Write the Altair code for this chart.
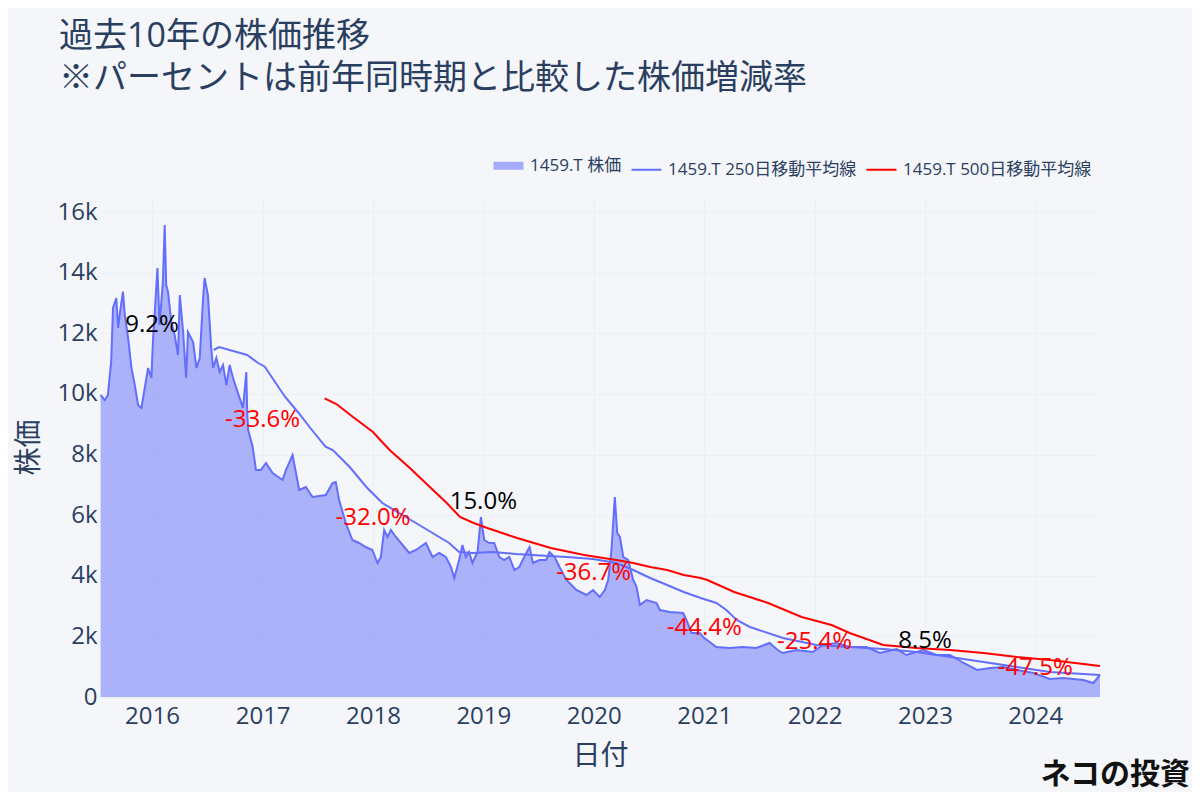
import altair as alt
import pandas as pd

TITLE_LINE1 = "過去10年の株価推移"
TITLE_LINE2 = "※パーセントは前年同時期と比較した株価増減率"
SERIES = ["1459.T 株価", "1459.T 250日移動平均線", "1459.T 500日移動平均線"]
SERIES_COLORS = ["#636efa", "#636efa", "#ff0000"]

price_dates = [
    "2015-07-15", "2015-07-29", "2015-08-08", "2015-08-19", "2015-08-25", "2015-09-05",
    "2015-09-11", "2015-09-16", "2015-09-27", "2015-10-03", "2015-10-14", "2015-10-25",
    "2015-11-05", "2015-11-16", "2015-11-27", "2015-12-08", "2015-12-19", "2015-12-30",
    "2016-01-04", "2016-01-19", "2016-01-26", "2016-02-06", "2016-02-12", "2016-02-17",
    "2016-02-23", "2016-03-05", "2016-03-16", "2016-03-27", "2016-04-02", "2016-04-13",
    "2016-04-23", "2016-04-29", "2016-05-16", "2016-05-27", "2016-06-07", "2016-06-18",
    "2016-06-23", "2016-07-04", "2016-07-15", "2016-07-21", "2016-08-01", "2016-08-12",
    "2016-08-23", "2016-09-03", "2016-09-14", "2016-09-25", "2016-10-06", "2016-10-17",
    "2016-10-28", "2016-11-08", "2016-11-11", "2016-11-14", "2016-11-29", "2016-12-10",
    "2016-12-26", "2017-01-12", "2017-02-03", "2017-03-08", "2017-03-19", "2017-04-10",
    "2017-05-02", "2017-05-24", "2017-06-15", "2017-07-29", "2017-08-20", "2017-08-31",
    "2017-09-11", "2017-10-03", "2017-10-25", "2017-11-16", "2017-12-08", "2017-12-30",
    "2018-01-16", "2018-01-27", "2018-02-07", "2018-02-18", "2018-03-01", "2018-03-18",
    "2018-04-09", "2018-05-01", "2018-05-23", "2018-06-25", "2018-07-17", "2018-08-08",
    "2018-08-30", "2018-09-16", "2018-09-27", "2018-10-13", "2018-10-24", "2018-11-04",
    "2018-11-15", "2018-11-26", "2018-12-13", "2018-12-24", "2019-01-04", "2019-01-21",
    "2019-02-06", "2019-02-23", "2019-03-11", "2019-03-28", "2019-04-14", "2019-04-30",
    "2019-05-23", "2019-06-03", "2019-06-14", "2019-07-06", "2019-07-28", "2019-08-08",
    "2019-08-25", "2019-09-10", "2019-10-03", "2019-11-05", "2019-12-08", "2019-12-30",
    "2020-01-21", "2020-02-07", "2020-02-18", "2020-02-29", "2020-03-11", "2020-03-19",
    "2020-03-28", "2020-04-08", "2020-04-24", "2020-05-11", "2020-05-22", "2020-06-02",
    "2020-06-24", "2020-07-27", "2020-08-07", "2020-09-09", "2020-10-23", "2020-11-03",
    "2020-11-20", "2020-12-17", "2020-12-28", "2021-01-19", "2021-02-10", "2021-03-26",
    "2021-05-09", "2021-06-22", "2021-08-05", "2021-09-01", "2021-09-18", "2021-11-01",
    "2021-12-26", "2022-01-28", "2022-03-14", "2022-04-27", "2022-06-21", "2022-08-05",
    "2022-09-29", "2022-11-01", "2022-12-26", "2023-02-09", "2023-03-25", "2023-05-09",
    "2023-06-22", "2023-08-05", "2023-09-18", "2023-11-01", "2023-12-26", "2024-02-18",
    "2024-04-03", "2024-06-08", "2024-07-11", "2024-08-02",
]
price_values = [
    9966, 9800, 9966, 11065, 12837, 13167,
    12177, 12606, 13375, 12606, 11847, 10857,
    10296, 9636, 9537, 10197, 10857, 10527,
    11715, 14157, 12276, 13695, 15576, 13596,
    13365, 12375, 11946, 11286, 13266, 12045,
    10527, 12045, 11715, 10857, 11187, 13167,
    13827, 13266, 11517, 10857, 11187, 10725,
    10956, 10296, 10956, 10527, 10197, 9867,
    9537, 10725, 9405, 8811, 8260, 7491,
    7491, 7722, 7392, 7161, 7491, 7986,
    6831, 6930, 6600, 6666, 7062, 7095,
    6501, 5742, 5181, 5082, 4950, 4851,
    4422, 4620, 5511, 5280, 5511, 5280,
    5016, 4752, 4851, 5082, 4620, 4752,
    4620, 4290, 3927, 4521, 5016, 4620,
    4785, 4422, 4785, 5940, 5181, 5082,
    5082, 4620, 4521, 4620, 4191, 4290,
    4752, 4950, 4422, 4521, 4521, 4785,
    4620, 4290, 3861, 3531, 3366, 3531,
    3300, 3531, 3861, 4851, 6600, 5412,
    5280, 4620, 4521, 3861, 3630, 3036,
    3201, 3102, 2871, 2805, 2772, 2541,
    2112, 2112, 1980, 1815, 1650, 1617,
    1650, 1617, 1782, 1551, 1452, 1551,
    1485, 1716, 1782, 1650, 1650, 1452,
    1584, 1386, 1551, 1386, 1386, 1122,
    891, 957, 990, 891, 792, 594,
    627, 561, 462, 726,
]

ma250_dates = [
    "2016-07-23", "2016-08-10", "2016-11-11", "2016-12-17", "2017-01-08", "2017-03-16",
    "2017-04-30", "2017-06-13", "2017-07-28", "2017-08-21", "2017-10-16", "2017-12-10",
    "2018-02-01", "2018-03-28", "2018-05-23", "2018-07-17", "2018-09-10", "2018-10-13",
    "2018-11-26", "2019-02-01", "2019-04-19", "2019-06-13", "2019-10-03", "2019-12-30",
    "2020-03-16", "2020-05-11", "2020-07-06", "2020-08-31", "2020-10-25", "2020-12-20",
    "2021-02-10", "2021-03-15", "2021-04-18", "2021-06-01", "2021-09-18", "2022-01-07",
    "2022-04-27", "2022-08-16", "2022-12-04", "2023-03-25", "2023-07-14", "2023-11-01",
    "2024-02-18", "2024-06-08", "2024-08-02",
]
ma250_values = [
    11451, 11550, 11286, 11022, 10900, 9910,
    9372, 8811, 8260, 8151, 7590, 6930,
    6402, 6072, 5742, 5412, 5082, 4785,
    4752, 4785, 4719, 4686, 4620, 4554,
    4422, 4191, 3927, 3696, 3465, 3267,
    3102, 2871, 2541, 2310, 1947, 1716,
    1650, 1584, 1485, 1320, 1155, 990,
    825, 759, 726,
]

ma500_dates = [
    "2017-07-25", "2017-09-02", "2017-10-27", "2017-12-31", "2018-02-25", "2018-05-03",
    "2018-07-08", "2018-09-02", "2018-10-16", "2018-11-30", "2019-01-14", "2019-04-23",
    "2019-08-12", "2019-12-01", "2020-03-16", "2020-05-11", "2020-07-06", "2020-08-31",
    "2020-10-25", "2020-12-20", "2021-01-11", "2021-04-10", "2021-07-31", "2021-11-19",
    "2022-02-26", "2022-04-27", "2022-08-16", "2022-12-04", "2023-03-25", "2023-07-14",
    "2023-11-01", "2024-02-18", "2024-06-08", "2024-08-02",
]
ma500_values = [
    9853, 9669, 9240, 8755, 8151, 7557,
    6930, 6402, 5940, 5742, 5577, 5247,
    4917, 4686, 4521, 4422, 4290, 4191,
    4026, 3927, 3861, 3465, 3102, 2640,
    2376, 2112, 1716, 1617, 1551, 1452,
    1320, 1221, 1089, 1023,
]

ann_dates = ["2016-01-01", "2017-01-01", "2018-01-01", "2019-01-01", "2020-01-01",
             "2021-01-01", "2022-01-01", "2023-01-01", "2024-01-01"]
ann_values = [12280, 9140, 5910, 6445, 4100, 2270, 1825, 1848, 950]
ann_labels = ["9.2%", "-33.6%", "-32.0%", "15.0%", "-36.7%", "-44.4%", "-25.4%", "8.5%", "-47.5%"]

TEXT = "#2a3f5f"
BG = "#f5f6fa"
GRID = "#ebf0f8"
FONT = "Open Sans, Noto Sans CJK JP"

price_df = pd.DataFrame({"date": price_dates, "value": price_values})
lines_df = pd.concat([
    pd.DataFrame({"date": price_dates, "value": price_values, "series": SERIES[0]}),
    pd.DataFrame({"date": ma250_dates, "value": ma250_values, "series": SERIES[1]}),
    pd.DataFrame({"date": ma500_dates, "value": ma500_values, "series": SERIES[2]}),
], ignore_index=True)
ann_df = pd.DataFrame({
    "date": ann_dates, "value": ann_values, "label": ann_labels,
    "tcolor": ["#000000" if not s.startswith("-") else "#ff0000" for s in ann_labels],
})

x_enc = alt.X(
    "date:T",
    scale=alt.Scale(type="utc",
                    domain=[alt.DateTime(year=2015, month=7, date=13, utc=True),
                            alt.DateTime(year=2024, month=8, date=2, utc=True)]),
    axis=alt.Axis(
        title="日付",
        values=[alt.DateTime(year=y, month=1, date=1, utc=True) for y in range(2016, 2025)],
        format="%Y", formatType="utc",
        labelFontSize=24, labelPadding=7, titleFontSize=28, titlePadding=14,
    ),
)
y_enc = alt.Y(
    "value:Q",
    scale=alt.Scale(domain=[0, 16500], nice=False, zero=True),
    axis=alt.Axis(
        title="株価",
        values=[0, 2000, 4000, 6000, 8000, 10000, 12000, 14000, 16000],
        labelExpr="datum.value == 0 ? '0' : format(datum.value / 1000, 'd') + 'k'",
        labelFontSize=24, labelPadding=3,
        titleFontSize=28, titlePadding=13,
    ),
)

area = alt.Chart(price_df).mark_area(color="#636efa", opacity=0.5).encode(
    x=x_enc, y=y_enc
)

lines = alt.Chart(lines_df).mark_line(strokeWidth=2).encode(
    x=x_enc, y=y_enc,
    color=alt.Color(
        "series:N",
        scale=alt.Scale(domain=SERIES, range=SERIES_COLORS),
        legend=alt.Legend(
            title=None, orient="none", direction="horizontal",
            legendX=400, legendY=-40,
            symbolType="stroke", symbolSize=900,
            symbolStrokeWidth=alt.ExprRef(expr="datum.index === 0 ? 8 : 2"),
            symbolOpacity=alt.ExprRef(expr="datum.index === 0 ? 0.55 : 1"),
            labelFontSize=17, labelColor=TEXT, labelFont=FONT, labelLimit=400,
            labelOffset=13, columnPadding=5,
        ),
    ),
    order=alt.Order("series:N"),
)

texts = alt.Chart(ann_df).mark_text(fontSize=24, font=FONT).encode(
    x=x_enc, y=y_enc,
    text="label:N",
    color=alt.Color("tcolor:N", scale=None),
)

logo = alt.Chart(pd.DataFrame({"t": ["ネコの投資"]})).mark_text(
    fontSize=30, font="Noto Sans CJK JP", fontWeight="bold", color="#111111", align="right"
).encode(text="t:N", x=alt.value(1090), y=alt.value(578))

chart = alt.layer(area, lines, texts, logo).properties(
    width=1000, height=500,
    padding={"left": 92, "top": 189, "right": 92, "bottom": 95},
    autosize=alt.AutoSizeParams(type="none"),
    background=BG,
    title=alt.TitleParams(
        text=TITLE_LINE1, subtitle=TITLE_LINE2,
        anchor="start", frame="group", dx=-41, offset=61,
        fontSize=34, font=FONT, fontWeight="normal", color=TEXT,
        subtitleFontSize=34, subtitleFont=FONT, subtitleFontWeight="normal",
        subtitleColor=TEXT, subtitlePadding=8,
    ),
).configure_view(stroke=None).configure_axis(
    domain=False, ticks=False, grid=True, gridColor=GRID, gridWidth=1,
    labelColor=TEXT, titleColor=TEXT, labelFont=FONT, titleFont=FONT,
    titleFontWeight="normal",
)

chart.save("out.html", embed_options={"renderer": "svg", "actions": False})
